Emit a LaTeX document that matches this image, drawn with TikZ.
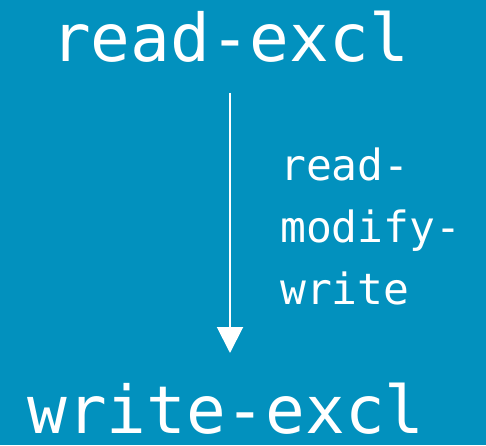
\documentclass[tikz,border=0pt]{standalone}
\usepackage{fontspec}
\setmonofont{DejaVu Sans Mono}
\usetikzlibrary{arrows.meta}
\definecolor{slideblue}{RGB}{2,145,190}
\tikzset{
  x=1pt, y=1pt,
  state/.style={text=white, font=\ttfamily\fontsize{66}{66}\selectfont, inner sep=0pt, anchor=base},
  edgelabel/.style={text=white, font=\ttfamily\fontsize{43}{62}\selectfont, inner sep=0pt, align=left, anchor=north west},
  flow/.style={draw=white, line width=2pt, -{Triangle[width=26pt,length=26pt]}}
}
\begin{document}
\begin{tikzpicture}
  % backdrop
  \fill[slideblue] (0,0) rectangle (486,445);
  \useasboundingbox (0,0) rectangle (486,445);
  % the two states
  \node[state] (readx) at (230,383) {read-excl};
  \node[state] (writex) at (226,12) {write-excl};
  % transition between them
  \coordinate (from) at (230,352);
  \coordinate (to) at (230,92);
  \draw[flow] (from) -- (to);
  \node[edgelabel] (rmw) at (280,297) {read-\\modify-\\write};
\end{tikzpicture}
\end{document}
